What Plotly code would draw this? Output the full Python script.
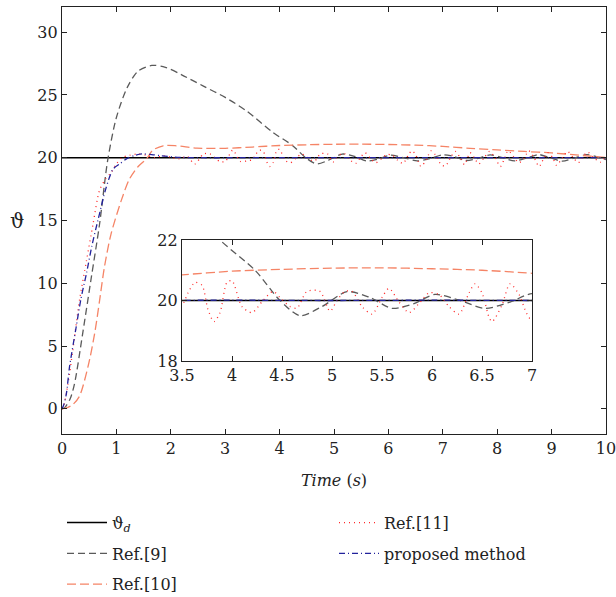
import plotly.graph_objects as go

# ---------------- data ----------------
t_d = [0, 10]
v_d = [20, 20]

t_ref9 = [0, 0.05, 0.15, 0.23, 0.38, 0.54, 0.69, 0.84, 1.0, 1.2, 1.4, 1.65, 1.9, 2.2, 2.6, 3.0,
          3.4, 3.88, 4.23, 4.48, 4.68, 4.9, 5.15, 5.38, 5.6, 5.82, 6.03, 6.28, 6.53, 6.78, 7.0,
          7.2, 7.42, 7.65, 7.87, 8.1, 8.32, 8.55, 8.76, 8.97, 9.2, 9.42, 9.65, 9.85, 10.0]
v_ref9 = [0, 0.1, 0.8, 2.0, 6.0, 10.5, 14.7, 19.8, 23.2, 25.6, 26.9, 27.35, 27.2, 26.6, 25.7, 24.8,
          23.7, 22.0, 21.0, 20.0, 19.5, 19.8, 20.29, 20.1, 19.74, 19.9, 20.2, 20.0, 19.74, 19.95, 20.23,
          20.1, 19.78, 19.95, 20.22, 20.0, 19.75, 19.98, 20.25, 20.0, 19.72, 19.98, 20.25, 20.05, 19.85]

t_ref10 = [0, 0.1, 0.2, 0.32, 0.48, 0.6, 0.69, 0.78, 0.9, 1.09, 1.24, 1.4, 1.55, 1.67, 1.86, 2.1,
           2.48, 3.0, 3.5, 4.0, 4.5, 5.0, 5.5, 6.0, 6.5, 7.0, 7.5, 8.0, 8.5, 9.0, 9.5, 10.0]
v_ref10 = [0, 0.1, 0.35, 1.0, 3.4, 6.0, 8.6, 11.3, 13.9, 16.6, 18.3, 19.3, 19.9, 20.6, 20.95, 20.95,
           20.76, 20.75, 20.85, 20.97, 21.03, 21.07, 21.08, 21.05, 21.0, 20.9, 20.75, 20.62, 20.5, 20.38, 20.2, 20.02]

t_ref11 = [0, 0.03, 0.11, 0.2, 0.32, 0.45, 0.57, 0.69, 0.8, 0.9, 1.0, 1.1, 1.25, 1.4, 1.55, 1.7,
           1.85, 2.0, 2.15, 2.3, 2.44, 2.6, 2.72, 2.9, 3.0, 3.14, 3.28, 3.4, 3.5, 3.56, 3.63, 3.7,
           3.76, 3.82, 3.88, 3.95, 4.0, 4.1, 4.2, 4.31, 4.41, 4.48, 4.58, 4.65, 4.75, 4.88, 4.98,
           5.05, 5.13, 5.2, 5.3, 5.4, 5.5, 5.57, 5.67, 5.77, 5.87, 5.97, 6.07, 6.17, 6.27, 6.37,
           6.43, 6.5, 6.57, 6.6, 6.7, 6.78, 6.87, 6.93, 6.98, 7.05, 7.14, 7.23, 7.32, 7.4, 7.5,
           7.58, 7.66, 7.76, 7.86, 7.96, 8.06, 8.13, 8.2, 8.3, 8.4, 8.5, 8.58, 8.68, 8.77, 8.85,
           8.93, 9.02, 9.09, 9.2, 9.29, 9.4, 9.49, 9.58, 9.66, 9.78, 9.9, 10.0]
v_ref11 = [0, 0.2, 2.0, 4.7, 8.6, 11.8, 14.7, 17.4, 18.3, 18.8, 19.5, 20.0, 20.2, 20.3, 20.2, 20.0,
           20.15, 20.05, 19.9, 20.1, 19.5, 20.3, 20.3, 19.7, 19.7, 20.6, 19.7, 19.75, 19.85, 20.25, 20.6, 20.5,
           19.7, 19.3, 19.6, 20.6, 20.65, 19.8, 19.6, 20.0, 20.3, 20.1, 19.8, 19.75, 20.3, 20.3, 19.65,
           20.0, 20.3, 20.3, 19.8, 19.55, 20.1, 20.4, 19.95, 19.6, 19.9, 20.25, 20.2, 19.8, 19.55, 20.25,
           20.55, 20.25, 19.45, 19.3, 19.85, 20.55, 20.2, 19.7, 19.4, 19.35, 20.0, 20.5, 20.0, 19.45, 20.4,
           20.0, 19.5, 20.0, 20.5, 20.0, 19.3, 19.9, 20.55, 20.1, 19.6, 20.0, 20.55, 20.0, 19.3, 19.9,
           20.4, 20.0, 19.4, 20.0, 20.5, 20.0, 19.6, 20.1, 20.45, 20.0, 19.65, 20.2]

t_prop = [0, 0.03, 0.08, 0.14, 0.26, 0.35, 0.45, 0.55, 0.66, 0.81, 0.94, 1.06, 1.2, 1.35, 1.48,
          1.65, 1.83, 2.16, 2.6, 3.0, 4.0, 5.0, 6.0, 7.0, 8.0, 9.0, 10.0]
v_prop = [0, 0.3, 1.2, 3.4, 6.5, 8.8, 10.8, 13.0, 15.0, 17.6, 19.1, 19.5, 19.95, 20.2, 20.3,
          20.25, 20.15, 20.03, 20.0, 20.0, 20.01, 20.0, 20.01, 20.0, 20.0, 20.01, 20.0]

x_ticks = [0, 1, 2, 3, 4, 5, 6, 7, 8, 9, 10]
y_ticks = [0, 5, 10, 15, 20, 25, 30]
x_ticks_inset = [3.5, 4, 4.5, 5, 5.5, 6, 6.5, 7]
y_ticks_inset = [18, 20, 22]

names = ["ϑ<sub><i>d</i></sub>", "Ref.[9]", "Ref.[10]", "Ref.[11]", "proposed method"]

# ---------------- styles ----------------
FONT = "DejaVu Serif"
FS = 16
TXT = "#222222"
styles = [
    dict(color="#000000", width=1.5, dash="solid"),
    dict(color="#5a5a5a", width=1.3, dash="7px,4px"),
    dict(color="#f58466", width=1.3, dash="9px,4px"),
    dict(color="#ff2a2a", width=1.3, dash="1px,4px"),
    dict(color="#22229c", width=1.3, dash="6px,3px,1px,3px"),
]
series = [(t_d, v_d), (t_ref9, v_ref9), (t_ref10, v_ref10), (t_ref11, v_ref11), (t_prop, v_prop)]
legends = ["legend", "legend", "legend", "legend2", "legend2"]

fig = go.Figure()
for i, ((tx, vy), nm, st) in enumerate(zip(series, names, styles)):
    fig.add_trace(go.Scatter(x=tx, y=vy, mode="lines", name=nm, legendgroup=f"g{i}",
                             line=dict(**st, shape="spline", smoothing=0.8),
                             legend=legends[i], xaxis="x", yaxis="y"))
for i, ((tx, vy), nm, st) in enumerate(zip(series, names, styles)):
    fig.add_trace(go.Scatter(x=tx, y=vy, mode="lines", name=nm,
                             line=dict(**st, shape="spline", smoothing=0.8),
                             showlegend=False, xaxis="x2", yaxis="y2"))

axis_common = dict(showline=True, linecolor=TXT, linewidth=1.4, mirror="ticks", ticks="inside",
                   ticklen=5, tickwidth=1.3, tickcolor=TXT, showgrid=False, zeroline=False,
                   automargin=False, ticklabeloverflow="allow",
                   tickfont=dict(family=FONT, size=FS, color=TXT))

leg_common = dict(yref="container", xanchor="left", yanchor="top", bgcolor="rgba(0,0,0,0)",
                  font=dict(family=FONT, size=FS, color=TXT), itemwidth=40, tracegroupgap=7)

fig.update_layout(
    width=616, height=597,
    margin=dict(l=62, r=10, t=7, b=163, autoexpand=False),
    paper_bgcolor="white", plot_bgcolor="white",
    font=dict(family=FONT, size=FS, color=TXT),
    xaxis=dict(range=[0, 10], tickvals=x_ticks, domain=[0, 1],
               title=dict(text="<i>Time</i> (<i>s</i>)", font=dict(family=FONT, size=FS), standoff=17),
               **axis_common),
    yaxis=dict(range=[-2, 32], tickvals=y_ticks, domain=[0, 1], **axis_common),
    xaxis2=dict(range=[3.5, 7], tickvals=x_ticks_inset, domain=[0.2206, 0.864], anchor="y2", **axis_common),
    yaxis2=dict(range=[18, 22], tickvals=y_ticks_inset, domain=[0.171, 0.4543], anchor="x2", **axis_common),
    legend=dict(x=0.0, y=0.153, **leg_common),
    legend2=dict(x=0.5, y=0.153, **leg_common),
    annotations=[dict(text="ϑ", xref="paper", yref="paper", x=-0.083, y=0.5, showarrow=False,
                      font=dict(family=FONT, size=20, color=TXT), xanchor="center", yanchor="middle")],
)

fig.write_html("out.html")
